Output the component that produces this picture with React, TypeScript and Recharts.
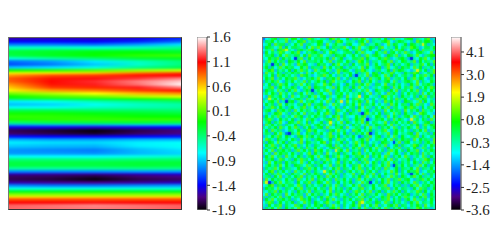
import { Bar, BarChart, Cell, XAxis, YAxis } from 'recharts';
import type { ReactNode } from 'react';

// left panel: value of each row read at 5 points across the width (0, 1/4, 1/2, 3/4, 1)
const stripeRows = [
  [-1.55, -1.5, -1.52, -1.45, -1.3],
  [-1.38, -1.38, -1.4, -1.3, -1.12],
  [-1.08, -1.08, -1.12, -1.0, -0.82],
  [-0.62, -0.62, -0.66, -0.6, -0.48],
  [-0.35, -0.3, -0.3, -0.3, -0.3],
  [-0.25, -0.2, -0.13, -0.12, -0.2],
  [-0.3, -0.2, -0.1, -0.02, 0.02],
  [-0.65, -0.5, -0.38, -0.25, -0.2],
  [-1.12, -1.0, -0.8, -0.58, -0.4],
  [-1.2, -1.08, -0.88, -0.62, -0.42],
  [-0.9, -0.82, -0.66, -0.45, -0.3],
  [-0.05, 0.0, 0.1, 0.25, 0.35],
  [0.45, 0.5, 0.58, 0.8, 0.95],
  [0.72, 0.9, 0.95, 1.05, 1.1],
  [0.88, 1.05, 1.12, 1.2, 1.35],
  [0.85, 1.08, 1.18, 1.35, 1.5],
  [0.72, 1.05, 1.15, 1.32, 1.58],
  [0.6, 0.95, 1.0, 1.15, 1.35],
  [0.45, 0.72, 0.8, 0.95, 1.05],
  [0.15, 0.3, 0.48, 0.65, 0.75],
  [-0.1, 0.05, 0.15, 0.3, 0.4],
  [-0.3, -0.25, -0.2, -0.1, 0.0],
  [-0.8, -0.7, -0.55, -0.45, -0.35],
  [-0.9, -0.85, -0.72, -0.6, -0.52],
  [-0.7, -0.7, -0.6, -0.55, -0.5],
  [-0.3, -0.3, -0.35, -0.35, -0.38],
  [-0.08, -0.08, -0.15, -0.2, -0.25],
  [0.0, -0.02, -0.05, -0.1, -0.12],
  [-0.05, -0.02, 0.0, 0.0, 0.0],
  [-0.4, -0.3, -0.28, -0.25, -0.3],
  [-1.0, -0.95, -0.95, -0.9, -0.9],
  [-1.45, -1.45, -1.5, -1.45, -1.4],
  [-1.72, -1.8, -1.88, -1.75, -1.65],
  [-1.68, -1.75, -1.82, -1.7, -1.62],
  [-1.35, -1.4, -1.42, -1.38, -1.35],
  [-0.95, -1.0, -1.0, -0.95, -0.95],
  [-0.78, -0.82, -0.84, -0.78, -0.74],
  [-0.86, -0.9, -0.92, -0.78, -0.72],
  [-0.95, -0.98, -1.0, -0.86, -0.76],
  [-1.02, -1.05, -1.08, -0.92, -0.82],
  [-1.0, -1.0, -1.02, -0.92, -0.85],
  [-0.72, -0.75, -0.75, -0.68, -0.62],
  [-0.42, -0.42, -0.43, -0.4, -0.38],
  [-0.28, -0.28, -0.27, -0.25, -0.25],
  [-0.28, -0.28, -0.28, -0.25, -0.27],
  [-0.5, -0.5, -0.48, -0.45, -0.45],
  [-1.05, -1.05, -1.05, -1.0, -1.0],
  [-1.52, -1.55, -1.55, -1.5, -1.45],
  [-1.7, -1.72, -1.78, -1.68, -1.62],
  [-1.73, -1.78, -1.88, -1.75, -1.7],
  [-1.55, -1.6, -1.62, -1.58, -1.52],
  [-1.05, -1.1, -1.1, -1.05, -1.02],
  [-0.68, -0.68, -0.68, -0.66, -0.65],
  [-0.2, -0.2, -0.18, -0.2, -0.2],
  [0.2, 0.2, 0.2, 0.2, 0.2],
  [0.55, 0.55, 0.55, 0.55, 0.55],
  [0.9, 0.9, 0.9, 0.9, 0.9],
  [1.1, 1.1, 1.12, 1.1, 1.1],
  [1.28, 1.32, 1.36, 1.32, 1.28],
  [1.3, 1.32, 1.34, 1.32, 1.28],
];

// right panel: each digit is an index into noiseLevels
const noiseLevels = [-2.3, -1.7, -1.2, -0.8, -0.4, -0.05, 0.3, 0.7, 1.2, 2.2];
const noiseRows = [
  '1346725584 7736258643 5527846337 2564783255 6372584436 7725436824',
  '2657364482 5376824657 7345268735 5426738254 4678325764 3528647752',
  '3472856625 3748256437 6283574426 7335862447 5238476347 2764596253',
  '2765348273 6654273858 4372655683 2748345762 6835427365 4875236647',
  '3548276895 3267548723 7546382467 3558264733 7254638572 3647285546',
  '2736458634 7582364675 2638754356 6274853327 4582673648 5236754382',
  '3657247385 4663728546 8345276573 4736258467 5327648253 7648325677',
  '4375682746 3058247365 6472835724 3665827434 7586234675 2043758362',
  '2584736527 6473825564 7358246637 5248736255 3674825376 4582736548',
  '3640572836 4285763427 5632748365 2735648247 3568274635 7254683726',
  '4726358475 6337482655 2847365724 6453827346 7258346275 6384725463',
  '3578264637 2748563284 6735248576 3265874325 6347285764 3249637258',
  '2846375264 7563284736 4572638245 7362548376 2745863427 5687243658',
  '4637285746 3528674235 6847325463 7204538267 5384726356 4273658472',
  '3758246375 6842365748 3265748236 2547362845 7368245637 2584763264',
  '2647583264 7354826357 4726835462 3758264735 2467385246 7538264375',
  '5372648573 2648375264 3857246327 4625738426 6382574635 2748365752',
  '3468257364 7523648276 5634827365 2748365245 3576284736 5842637486',
  '2756384627 4832575046 3684257364 7253648327 5462738256 3748256374',
  '4637528463 6257384625 7348265736 3547263824 6328574263 7465283746',
  '3286457362 8436527483 6725347628 3549267345 2784635274 5362748265',
  '2594736825 3675284362 4738256437 2685374263 5473628547 3258476352',
  '5367482406 7248365743 6385274928 3647528362 4285736427 6534827364',
  '3746258374 5362748256 7253846326 4738256473 6352847365 2748563285',
  '2458637425 7346825374 6842375263 5627384526 3748256347 5864273647',
  '4673285746 2837465326 5374268537 2648357246 5283746528 3647285463',
  '3524768352 6473825647 3685274362 7542068463 7265384627 4523876342',
  '2736485246 3857246375 4623758264 3374682537 6428375246 7385264738',
  '4685237463 7246385742 3567248365 2475830246 5736284753 2946375284',
  '3572648327 6485372634 7259463827 5364827365 3482657364 7285346725',
  '2847365264 3726485367 4638275463 2746358247 6573824635 3647258476',
  '5364728537 4852637246 7284365728 3465273845 2647385264 7538246357',
  '3728465236 5374268573 4526738463 2857364725 4683257463 5264738254',
  '4652738410 6482375264 7358246372 5264738026 3548267354 6728354627',
  '2537486375 3267485736 2458637246 4731265836 7246385274 3568274365',
  '3864275463 7528364257 6347258463 2635748236 5473826475 6283746528',
  '5276384726 4358276453 7826354726 3584726354 2765304826 7354625748',
  '3748526374 6825374265 3467285364 2573846273 6482357264 3587246375',
  '2465738265 3746285473 5236748526 3748265738 4527364825 6372485263',
  '4738265746 2584736285 7364295738 2546283746 3625847362 7458236475',
  '5362847563 7426358274 6283547264 3758246375 6248357426 3756284635',
  '2748365284 6375246738 3572648357 2465738264 7385264738 5246385274',
  '3657248635 2748563724 6485327465 3627485236 5473826354 7263548726',
  '4283756274 6538427365 2746358264 7352648375 2648375264 6375284637',
  '3574628374 2765384625 7348256473 2658374265 3748206473 6254837265',
  '2645837265 4372658473 6253748265 3748526374 6285347265 4738265473',
  '5378264735 2846375264 3957284625 7364825736 2453847263 7568243657',
  '3726485362 7453826475 2638475263 4825736482 6374528364 2047385264',
  '4562738246 3758264637 5284736254 3647258364 7253846275 3684725463',
  '2837465374 6285374826 4736285473 6258374625 3748265846 7325684736',
  '5902748365 4273658247 6385247364 7253846036 2748365274 6385246375',
  '3478265746 6385274635 2746385264 3748265473 6582374625 2748365746',
  '2756384265 3748256473 6528374625 7346825374 3658247365 4273856247',
  '4365827463 5274638265 4738265736 2586374825 7263584726 3548627364',
  '3827465283 7465283746 2537486352 6473826547 3528647365 7246385274',
  '5264738257 3658247362 7485326475 2638475263 4758263748 5362748265',
  '2748365746 2538647253 6274835264 7365824736 2658374625 7384526374',
  '3586247364 7253846275 3684257364 3728946527 6385274635 2748365473',
  '4273658264 3857246375 7264835263 5748263748 2536748265 3647528364',
  '2647385274 6385274637 3526748253 6247385264 7385264736 2548736524',
];

const leftTicks = [-1.9, -1.4, -0.9, -0.4, 0.1, 0.6, 1.1, 1.6];
const leftRange: [number, number] = [-1.9, 1.6];
const rightTicks = [-3.6, -2.5, -1.4, -0.3, 0.8, 1.9, 3.0, 4.1];
const rightRange: [number, number] = [-3.6, 4.83];

// palette position (0-1) and its colour, bottom to top of the colour bar
const palette: [number, number[]][] = [
  [0, [0, 0, 0]],
  [0.075, [75, 0, 130]],
  [0.145, [0, 0, 255]],
  [0.33, [0, 255, 255]],
  [0.51, [0, 255, 0]],
  [0.68, [255, 255, 0]],
  [0.855, [255, 0, 0]],
  [1, [255, 255, 255]],
];

const heatColor = (value: number, [min, max]: [number, number]) => {
  const t = Math.min(1, Math.max(0, (value - min) / (max - min)));
  for (let i = 1; i < palette.length; i++) {
    const [t1, c1] = palette[i];
    const [t0, c0] = palette[i - 1];
    if (t <= t1) {
      const f = (t - t0) / (t1 - t0);
      return `rgb(${c0.map((c, k) => Math.round(c + (c1[k] - c) * f)).join(',')})`;
    }
  }
  return 'rgb(255,255,255)';
};

const PLOT_W = 174;
const PLOT_H = 173;
const TOP = 37;
const FONT = '"Liberation Serif", serif';

// the reference image is resampled, so a softened copy sits over the sharp one
function Soft({ left, blur, mix, children }: { left: number; blur: number; mix: number; children: ReactNode }) {
  return (
    <div
      style={{
        position: 'absolute',
        left,
        top: TOP,
        width: PLOT_W,
        height: PLOT_H,
        overflow: 'hidden',
      }}
    >
      {children}
      <div style={{ position: 'absolute', left: 0, top: 0, filter: `blur(${blur}px)`, opacity: mix }}>{children}</div>
      <div
        style={{
          position: 'absolute',
          inset: 0,
          boxSizing: 'border-box',
          borderStyle: 'solid',
          borderWidth: 1,
          borderColor: '#666 #333 #333 #777',
        }}
      />
    </div>
  );
}

function StripeChart() {
  const data = stripeRows.map((_, i) => ({ row: i, span: 1 }));
  return (
    <BarChart width={PLOT_W} height={PLOT_H} data={data} layout="vertical" margin={{ top: 0, right: 0, bottom: 0, left: 0 }} barCategoryGap={0}>
      <defs>
        {stripeRows.map((vals, i) => (
          <linearGradient key={i} id={`stripe-${i}`} x1="0" y1="0" x2="1" y2="0">
            {vals.map((v, k) => (
              <stop key={k} offset={k / (vals.length - 1)} stopColor={heatColor(v, leftRange)} />
            ))}
          </linearGradient>
        ))}
      </defs>
      <XAxis type="number" domain={[0, 1]} hide />
      <YAxis type="category" dataKey="row" hide />
      <Bar dataKey="span" isAnimationActive={false} shapeRendering="crispEdges">
        {stripeRows.map((_, i) => (
          <Cell key={i} fill={`url(#stripe-${i})`} />
        ))}
      </Bar>
    </BarChart>
  );
}

function NoiseChart() {
  const rows = noiseRows.map((r) => r.replace(/ /g, ''));
  const cols = rows[0].split('').map((_, c) => `c${c}`);
  const data = rows.map((_, i) => {
    const item: Record<string, number> = { row: i };
    cols.forEach((key) => {
      item[key] = 1;
    });
    return item;
  });
  return (
    <BarChart width={PLOT_W} height={PLOT_H} data={data} layout="vertical" margin={{ top: 0, right: 0, bottom: 0, left: 0 }} barCategoryGap={0}>
      <XAxis type="number" domain={[0, cols.length]} hide />
      <YAxis type="category" dataKey="row" hide />
      {cols.map((key, c) => (
        <Bar key={key} dataKey={key} stackId="grid" isAnimationActive={false} shapeRendering="crispEdges">
          {rows.map((r, i) => (
            <Cell key={i} fill={heatColor(noiseLevels[Number(r[c])], rightRange)} />
          ))}
        </Bar>
      ))}
    </BarChart>
  );
}

function ColorBar({ left, ticks, range, id }: { left: number; ticks: number[]; range: [number, number]; id: string }) {
  const data = [{ name: 'bar', span: range }];
  const decimals = (v: number) => v.toFixed(1);
  return (
    <div style={{ position: 'absolute', left, top: TOP - 10 }}>
      <BarChart width={50} height={PLOT_H + 20} data={data} margin={{ top: 10, right: 0, bottom: 10, left: 0 }} barCategoryGap={0}>
        <defs>
          <linearGradient id={id} x1="0" y1="1" x2="0" y2="0">
            {palette.map(([t, c]) => (
              <stop key={t} offset={t} stopColor={`rgb(${c.join(',')})`} />
            ))}
          </linearGradient>
        </defs>
        <XAxis dataKey="name" hide />
        <YAxis
          orientation="right"
          type="number"
          domain={range}
          ticks={ticks}
          interval={0}
          width={40}
          allowDataOverflow
          axisLine={{ stroke: '#777' }}
          tickLine={{ stroke: '#333' }}
          tickSize={3}
          tickMargin={2}
          tickFormatter={decimals}
          tick={{ fontFamily: FONT, fontSize: 15, fill: '#222' }}
        />
        <Bar dataKey="span" fill={`url(#${id})`} stroke="#888" isAnimationActive={false} />
      </BarChart>
    </div>
  );
}

export default function App() {
  return (
    <div style={{ position: 'absolute', left: 0, top: 0, width: 498, height: 250, overflow: 'hidden', background: '#fff' }}>
      <Soft left={8} blur={0.8} mix={1}>
        <StripeChart />
      </Soft>
      <ColorBar left={197} ticks={leftTicks} range={leftRange} id="bar-left" />
      <Soft left={262} blur={0.8} mix={0.55}>
        <NoiseChart />
      </Soft>
      <ColorBar left={451} ticks={rightTicks} range={rightRange} id="bar-right" />
    </div>
  );
}
